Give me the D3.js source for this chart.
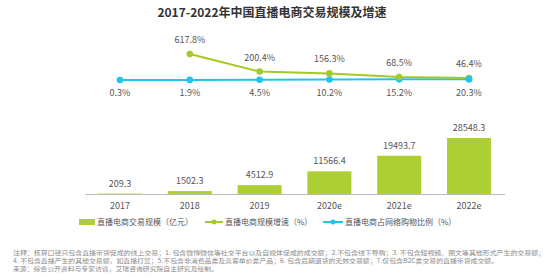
<!DOCTYPE html>
<html>
<head>
<meta charset="utf-8">
<script src="https://cdn.jsdelivr.net/npm/d3@7"></script>
<style>
  body { margin: 0; background: #fff; }
  text { font-family: "Noto Sans CJK SC", "Noto Sans", sans-serif; }
</style>
</head>
<body>
<script>
// data
const years = ['2017', '2018', '2019', '2020e', '2021e', '2022e'];
const scale = [209.3, 1502.3, 4512.9, 11566.4, 19493.7, 28548.3];   // 亿元
const growth = [null, 617.8, 200.4, 156.3, 68.5, 46.4];            // %
const share = [0.3, 1.9, 4.5, 10.2, 15.2, 20.3];                   // %

const notes = [
  '注释：核算口径只包含直播带货促成的线上交易；1. 包含微博微信等社交平台以及自媒体促成的成交额；2.不包含线下导购；3. 不包含短视频、图文等其他形式产生的交易额；',
  ' 4. 不包含直播产生的其他交易额，如直播打赏；5.不包含非消费品类及高客单价类产品；6. 包含后期退货的无效交易额；7.仅包含B2C类交易的直播带货成交额。',
  '来源：综合公开资料与专家访谈，艾瑞咨询研究院自主研究及绘制。'
];
const noteLen = [532, 485, 205];

const W = 554, H = 276;
const barColor = '#aecf33', lineGreen = '#a5c82a', lineBlue = '#1ec6ee';

const svg = d3.select('body').append('svg')
  .attr('width', W).attr('height', H);

svg.append('text')
  .attr('x', 272).attr('y', 17)
  .attr('text-anchor', 'middle')
  .style('font-size', '12px').style('font-weight', 'bold').style('fill', '#333')
  .text('2017-2022年中国直播电商交易规模及增速');

const x = d3.scalePoint().domain(years).range([120, 469]);

// bars
const yBar = d3.scaleLinear().domain([0, 28548.3]).range([194, 138]);
const bw = 44;

svg.append('line')
  .attr('x1', 85).attr('x2', 505).attr('y1', 194.5).attr('y2', 194.5)
  .style('stroke', '#bcbcbc').style('stroke-width', 1.2);

svg.selectAll('rect.bar').data(scale).join('rect')
  .attr('class', 'bar')
  .attr('x', (d, i) => x(years[i]) - bw / 2)
  .attr('y', d => yBar(d))
  .attr('width', bw)
  .attr('height', d => 194 - yBar(d))
  .style('fill', barColor);

svg.selectAll('text.bl').data(scale).join('text')
  .attr('class', 'bl')
  .attr('x', (d, i) => x(years[i]))
  .attr('y', d => yBar(d) - 7)
  .attr('text-anchor', 'middle')
  .style('font-size', '9px').style('fill', '#555')
  .text(d => d.toFixed(1));

svg.selectAll('text.yr').data(years).join('text')
  .attr('class', 'yr')
  .attr('x', d => x(d))
  .attr('y', 209)
  .attr('text-anchor', 'middle')
  .style('font-size', '9px').style('fill', '#555')
  .text(d => d);

// lines
const yLine = d3.scaleLinear().domain([0, 617.8]).range([80, 54]);

const gData = growth.map((v, i) => ({ k: years[i], v })).filter(d => d.v != null);
const sData = share.map((v, i) => ({ k: years[i], v }));

const line = d3.line().x(d => x(d.k)).y(d => yLine(d.v));

svg.append('path').datum(sData).attr('d', line)
  .style('fill', 'none').style('stroke', lineBlue).style('stroke-width', 2);
svg.append('path').datum(gData).attr('d', line)
  .style('fill', 'none').style('stroke', lineGreen).style('stroke-width', 2);

svg.selectAll('circle.s').data(sData).join('circle')
  .attr('class', 's')
  .attr('cx', d => x(d.k)).attr('cy', d => yLine(d.v)).attr('r', 3.3)
  .style('fill', lineBlue);
svg.selectAll('circle.g').data(gData).join('circle')
  .attr('class', 'g')
  .attr('cx', d => x(d.k)).attr('cy', d => yLine(d.v)).attr('r', 3.3)
  .style('fill', lineGreen);
// last point: blue on top
svg.append('circle')
  .attr('cx', x(years[5])).attr('cy', yLine(share[5])).attr('r', 3.3)
  .style('fill', lineBlue);

svg.selectAll('text.gl').data(gData).join('text')
  .attr('class', 'gl')
  .attr('x', d => x(d.k))
  .attr('y', d => Math.min(yLine(d.v) - 11, 67))
  .attr('text-anchor', 'middle')
  .style('font-size', '9px').style('fill', '#555')
  .text(d => d.v.toFixed(1) + '%');

svg.selectAll('text.sl').data(sData).join('text')
  .attr('class', 'sl')
  .attr('x', d => x(d.k))
  .attr('y', 96)
  .attr('text-anchor', 'middle')
  .style('font-size', '9px').style('fill', '#555')
  .text(d => d.v.toFixed(1) + '%');

// legend
const lg = svg.append('g').style('font-size', '8px');
lg.append('rect').attr('x', 79).attr('y', 219).attr('width', 16).attr('height', 6).style('fill', barColor);
lg.append('text').attr('x', 97).attr('y', 225).style('fill', '#555').text('直播电商交易规模（亿元）');

lg.append('line').attr('x1', 205).attr('x2', 223).attr('y1', 222).attr('y2', 222)
  .style('stroke', lineGreen).style('stroke-width', 2);
lg.append('circle').attr('cx', 214).attr('cy', 222).attr('r', 2.5).style('fill', lineGreen);
lg.append('text').attr('x', 225).attr('y', 225).style('fill', '#555').text('直播电商规模增速（%）');

lg.append('line').attr('x1', 323).attr('x2', 343).attr('y1', 222).attr('y2', 222)
  .style('stroke', lineBlue).style('stroke-width', 2);
lg.append('circle').attr('cx', 333).attr('cy', 222).attr('r', 2.5).style('fill', lineBlue);
lg.append('text').attr('x', 345).attr('y', 225).style('fill', '#555').text('直播电商占网络购物比例（%）');

// notes
svg.selectAll('text.note').data(notes).join('text')
  .attr('class', 'note')
  .attr('x', 13)
  .attr('y', (d, i) => 255 + i * 8)
  .attr('textLength', (d, i) => noteLen[i])
  .attr('lengthAdjust', 'spacingAndGlyphs')
  .style('font-size', '5.8px').style('fill', '#888')
  .text(d => d);
</script>
</body>
</html>
